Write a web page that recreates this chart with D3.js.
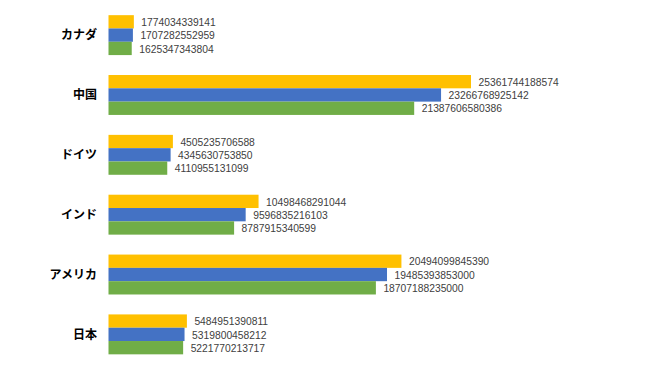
<!DOCTYPE html>
<html><head><meta charset="utf-8">
<script src="https://cdn.jsdelivr.net/npm/d3@7"></script>
<style>body{margin:0;background:#fff}</style>
</head><body>
<script>
const categories = ["カナダ","中国","ドイツ","インド","アメリカ","日本"];
const series1 = [1774034339141,25361744188574,4505235706588,10498468291044,20494099845390,5484951390811];
const series2 = [1707282552959,23266768925142,4345630753850,9596835216103,19485393853000,5319800458212];
const series3 = [1625347343804,21387606580386,4110955131099,8787915340599,18707188235000,5221770213717];
const seriesColors = ["#FFC000","#4472C4","#70AD47"];

const W=650,H=368;
const svg=d3.select("body").append("svg").attr("width",W).attr("height",H);
const allSeries=[series1,series2,series3];
const x=d3.scaleLinear().domain([0,d3.max(series1)]).range([108.5,471]);
const y=d3.scaleBand().domain(categories).range([5.2,364.3]).paddingInner(0.333).paddingOuter(0.1665);
const y1=d3.scaleBand().domain([0,1,2]).range([0,y.bandwidth()]);

categories.forEach((c,i)=>{
  const g=svg.append("g").attr("transform",`translate(0,${y(c)})`);
  allSeries.forEach((s,j)=>{
    g.append("rect").attr("x",x(0)).attr("y",y1(j)).attr("width",x(s[i])-x(0)).attr("height",y1.bandwidth()).attr("fill",seriesColors[j]);
    g.append("text").attr("x",x(s[i])+7.5).attr("y",y1(j)+y1.bandwidth()/2+0.5).attr("dy","0.36em")
      .attr("font-family","Liberation Sans, Arial, sans-serif").attr("font-size",10.3).attr("fill","#404040").text(s[i]);
  });
  svg.append("text").attr("x",97).attr("y",y(c)+y.bandwidth()/2).attr("dy","0.36em").attr("text-anchor","end")
    .attr("font-family","Noto Sans CJK JP, sans-serif").attr("font-weight","bold").attr("font-size",12).attr("fill","#000").text(c);
});
</script>
</body></html>
